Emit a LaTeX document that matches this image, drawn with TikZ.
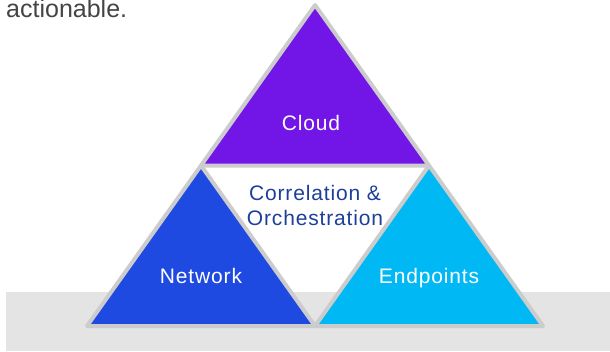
\documentclass[tikz,border=0pt]{standalone}
\usepackage{fontspec}
\setmainfont{Liberation Sans}
\newfontfamily\widefont[LetterSpace=4]{Liberation Sans}
\usetikzlibrary{calc}
\definecolor{cloudpurple}{HTML}{7216E8}
\definecolor{netblue}{HTML}{1F4AE2}
\definecolor{endcyan}{HTML}{00B9F4}
\definecolor{edgegray}{HTML}{CCCCCC}
\definecolor{bandgray}{HTML}{E4E4E4}
\definecolor{textnavy}{HTML}{1D3F99}
\definecolor{introgray}{HTML}{444444}
\tikzset{tri/.style={draw=edgegray, line width=4pt, line join=round},
tritext/.style={text=white, inner sep=0pt, anchor=base, font=\widefont\fontsize{21}{25}\selectfont},
core/.style={text=textnavy, align=center, inner sep=0pt, font=\widefont\fontsize{21}{25}\selectfont}}

\begin{document}
\begin{tikzpicture}[x=1pt,y=-1pt]
\useasboundingbox (0,0) rectangle (610,351);
% floor band
\fill[bandgray] (6,292) rectangle (610,351);

% corners of the big triangle
\coordinate (apex) at (315,5);
\coordinate (baseL) at (87,326);
\coordinate (baseR) at (543,326);
\coordinate (midL) at ($(apex)!0.5!(baseL)$);
\coordinate (midR) at ($(apex)!0.5!(baseR)$);
\coordinate (midB) at ($(baseL)!0.5!(baseR)$);

% the three parts
\filldraw[tri, fill=cloudpurple] (apex) -- (midL) -- (midR) -- cycle;
\filldraw[tri, fill=netblue] (midL) -- (baseL) -- (midB) -- cycle;
\filldraw[tri, fill=endcyan] (midR) -- (midB) -- (baseR) -- cycle;

\node[tritext] (cloud) at (311,130) {Cloud};
\node[tritext] (network) at (201,283) {Network};
\node[tritext] (endpoints) at (429,283) {Endpoints};
\node[core] (corr) at (315,205) {Correlation \&\\Orchestration};

% cut-off line above
\node[text=introgray, inner sep=0pt, anchor=base west, font=\fontsize{25}{30}\selectfont] (intro) at (6,17) {actionable.};
\end{tikzpicture}
\end{document}
